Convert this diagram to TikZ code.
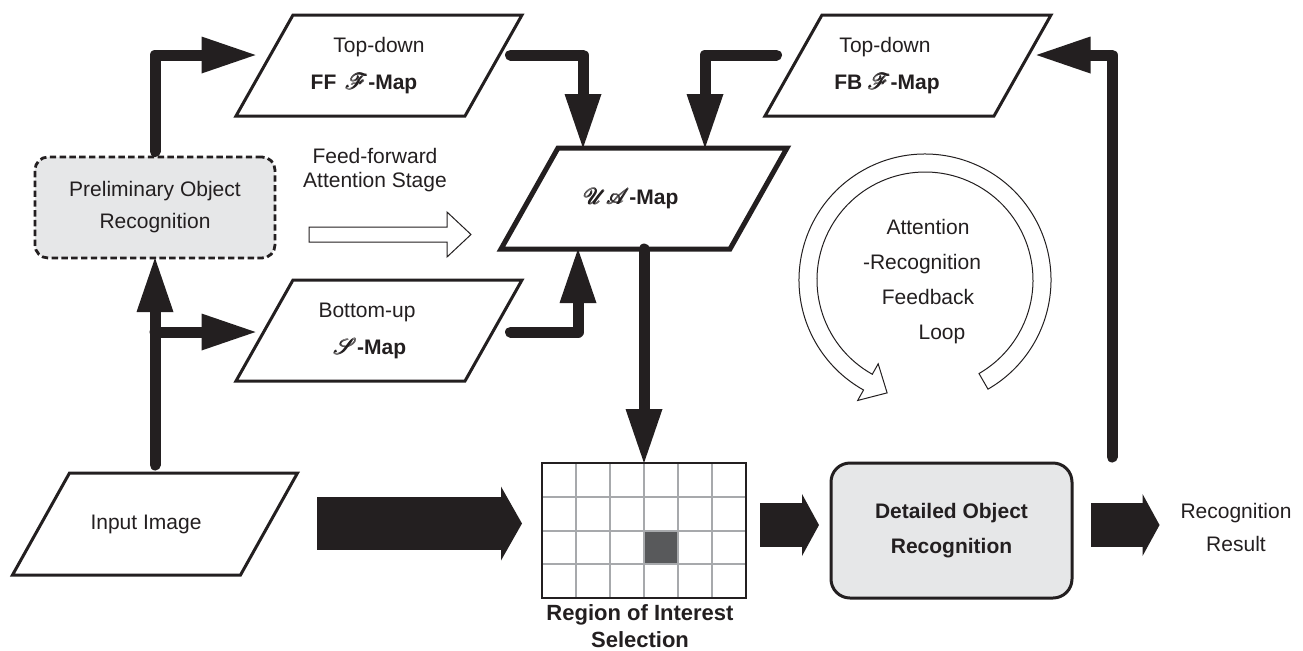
\documentclass[tikz,border=0pt]{standalone}
\usepackage{fontspec}
\setmainfont{Liberation Sans}
\usepackage{amsmath}
\usepackage{mathrsfs}
\usetikzlibrary{arrows.meta,calc}
\definecolor{ink}{HTML}{231F20}
\definecolor{panel}{HTML}{E6E7E8}
\definecolor{gridgray}{HTML}{A7A9AC}
\definecolor{cellgray}{HTML}{58595B}
% parallelogram outline around a map node (slant of 57 units)
\newcommand\mapoutline[2][]{%
  \draw[mapbox,#1] ($(#2.north west)+(28.5,0)$) -- ($(#2.north east)+(28.5,0)$)
    -- ($(#2.south east)+(-28.5,0)$) -- ($(#2.south west)+(-28.5,0)$) -- cycle;}
% invisible padding to move a centred line sideways
\newcommand\padR[1]{\rule{#1}{0pt}}
% heavy script letter
\newcommand\scr[1]{$\pmb{\mathscr{#1}}$}
\tikzset{
  lbl/.style={text=ink, align=center, inner sep=0pt, outer sep=0pt,
    font=\fontsize{10.5}{18.5}\selectfont},
  mapnode/.style={lbl, minimum width=114.5pt, minimum height=50.5pt},
  mapbox/.style={draw=ink, line width=1.5pt, line join=miter},
  flow/.style={draw=ink, line width=5.5pt, line cap=round, line join=round,
    -{Triangle[length=27pt, width=18.5pt, line width=0pt]}},
  block/.style n args={3}{draw=ink, line width=#1,
    -{Triangle[length=#2, width=#3, line width=0pt]}},
  hollow/.style={draw=ink, line width=0.5pt, fill=white, line join=miter},
  prelim/.style={draw=ink, line width=1.4pt, dash pattern=on 3.2pt off 1.7pt,
    fill=panel, rounded corners=6.5pt, minimum width=120pt, minimum height=50.5pt,
    inner sep=0pt, outer sep=0pt, text=ink, align=center,
    font=\fontsize{10.5}{16}\selectfont},
  detail/.style={draw=ink, line width=1.5pt, fill=panel, rounded corners=9.5pt,
    minimum width=120.5pt, minimum height=67.5pt, inner sep=0pt, outer sep=0pt,
    text=ink, align=center, font=\bfseries\fontsize{10.5}{17.5}\selectfont},
  roigrid/.style={draw=gridgray, line width=1pt},
}
\begin{document}
\begin{tikzpicture}[x=0.5pt, y=0.5pt, yscale=-1]
\useasboundingbox (0,0) rectangle (1303,650);
\fill[white] (0,0) rectangle (1303,650);

% ---------- map nodes (parallelograms) ----------
\node[mapnode] (ff) at (379,65.5)
  {Top-down\\\textbf{FF}\ \,\scr{F}\textbf{-Map}\padR{15pt}};
\node[mapnode] (fb) at (908,65.5)
  {Top-down\padR{23pt}\\\textbf{FB} \scr{F}\textbf{-Map}\padR{21pt}};
\node[mapnode] (sm) at (379,330.5)
  {Bottom-up\padR{12pt}\\\scr{S}\textbf{-Map}\padR{9pt}};
\node[mapnode] (ua) at (644,198.5)
  {\scr{U}\scr{A}\textbf{-Map}\padR{13pt}};
\node[mapnode, minimum width=114pt, minimum height=51pt] (in) at (155,524)
  {Input Image\padR{9pt}};
\mapoutline{ff}
\mapoutline{fb}
\mapoutline{sm}
\mapoutline[line width=2.5pt]{ua}
\mapoutline{in}

% ---------- recognition boxes ----------
\node[prelim] (pre) at (155,207.5) {Preliminary Object\\Recognition};
\node[detail] (det) at (951.5,530.5) {Detailed Object\\Recognition};
\node[lbl, font=\fontsize{10.5}{16.5}\selectfont] (res) at (1236,527)
  {Recognition\\Result};

% ---------- region of interest grid ----------
\node[minimum width=102pt, minimum height=67.5pt, inner sep=0pt, outer sep=0pt]
  (roi) at (644,530.5) {};
\fill[cellgray] ($(roi.north west)+(102,67.5)$) rectangle ++(34,33.75);
\foreach \i in {1,...,5}
  \draw[roigrid] ($(roi.north west)+(34*\i,0)$) -- ++(0,135);
\foreach \j in {1,2,3}
  \draw[roigrid] ($(roi.north west)+(0,33.75*\j)$) -- ++(204,0);
\draw[ink, line width=1pt] (roi.north west) rectangle (roi.south east);
\node[lbl, font=\bfseries\fontsize{11}{13.5}\selectfont] (roilbl) at (640,626.5)
  {Region of Interest\\Selection};

% ---------- stage labels ----------
\node[lbl, font=\fontsize{10.5}{12}\selectfont] (fftxt) at (375,170)
  {Feed-forward\\Attention Stage};
\node[lbl, font=\fontsize{10.5}{17.5}\selectfont] (looptxt) at (928,281.5)
  {Attention\\-Recognition\padR{6pt}\\Feedback\\\padR{14pt}Loop};

% ---------- thick connectors ----------
\coordinate (branch) at (155,332);
\draw[flow] ($(in.north)+(0,-8)$) -- (pre.south);
\draw[flow] ($(pre.north)+(0,-5.5)$) |- ($(ff.west)+(-9,-10.5)$);
\draw[flow] (branch) -- ($(sm.west)+(-9,1.5)$);
\draw[flow] ($(ff.east)+(17,-10.5)$) -| ($(ua.north)+(-61,0)$);
\draw[flow] ($(fb.west)+(-17,-10.5)$) -| ($(ua.north)+(61,0)$);
\draw[flow] ($(sm.east)+(17,1.5)$) -| ($(ua.south)+(-66,0)$);
\draw[flow] (ua.south) -- (roi.north);
\draw[flow] ($(det.east)+(40,-73.5)$) |- ($(fb.east)+(14,-10.5)$);

% ---------- block arrows ----------
\draw[block={26.5pt}{10.5pt}{37pt}] ($(in.east)+(48,-0.5)$) -- ($(roi.west)+(-20,-7)$);
\draw[block={22pt}{8.5pt}{31pt}] ($(roi.east)+(14,-5.5)$) -- ($(det.west)+(-12,-5.5)$);
\draw[block={22pt}{8.5pt}{31pt}] ($(det.east)+(19,-5.5)$) -- ($(res.west)+(-21,-2)$);

% ---------- hollow feed-forward arrow ----------
\coordinate (fwd) at (309,234.5);
\draw[hollow] (fwd) ++(0,-7.5) -- ++(138,0) -- ++(0,-15) -- ++(24,22.5)
  -- ++(-24,22.5) -- ++(0,-15) -- ++(-138,0) -- cycle;

% ---------- circular feedback arrow ----------
\coordinate (lc) at (925,280);
\draw[hollow] ($(lc)+(60:126)$) arc[start angle=60, end angle=-240.8, radius=126]
  -- ($(lc)+(-240.8:138)$) -- ($(lc)+(-240.8:117)+(29.2:22)$)
  -- ($(lc)+(-240.8:96)$) -- ($(lc)+(-240.8:108)$)
  arc[start angle=-240.8, end angle=60, radius=108] -- cycle;
\end{tikzpicture}
\end{document}
